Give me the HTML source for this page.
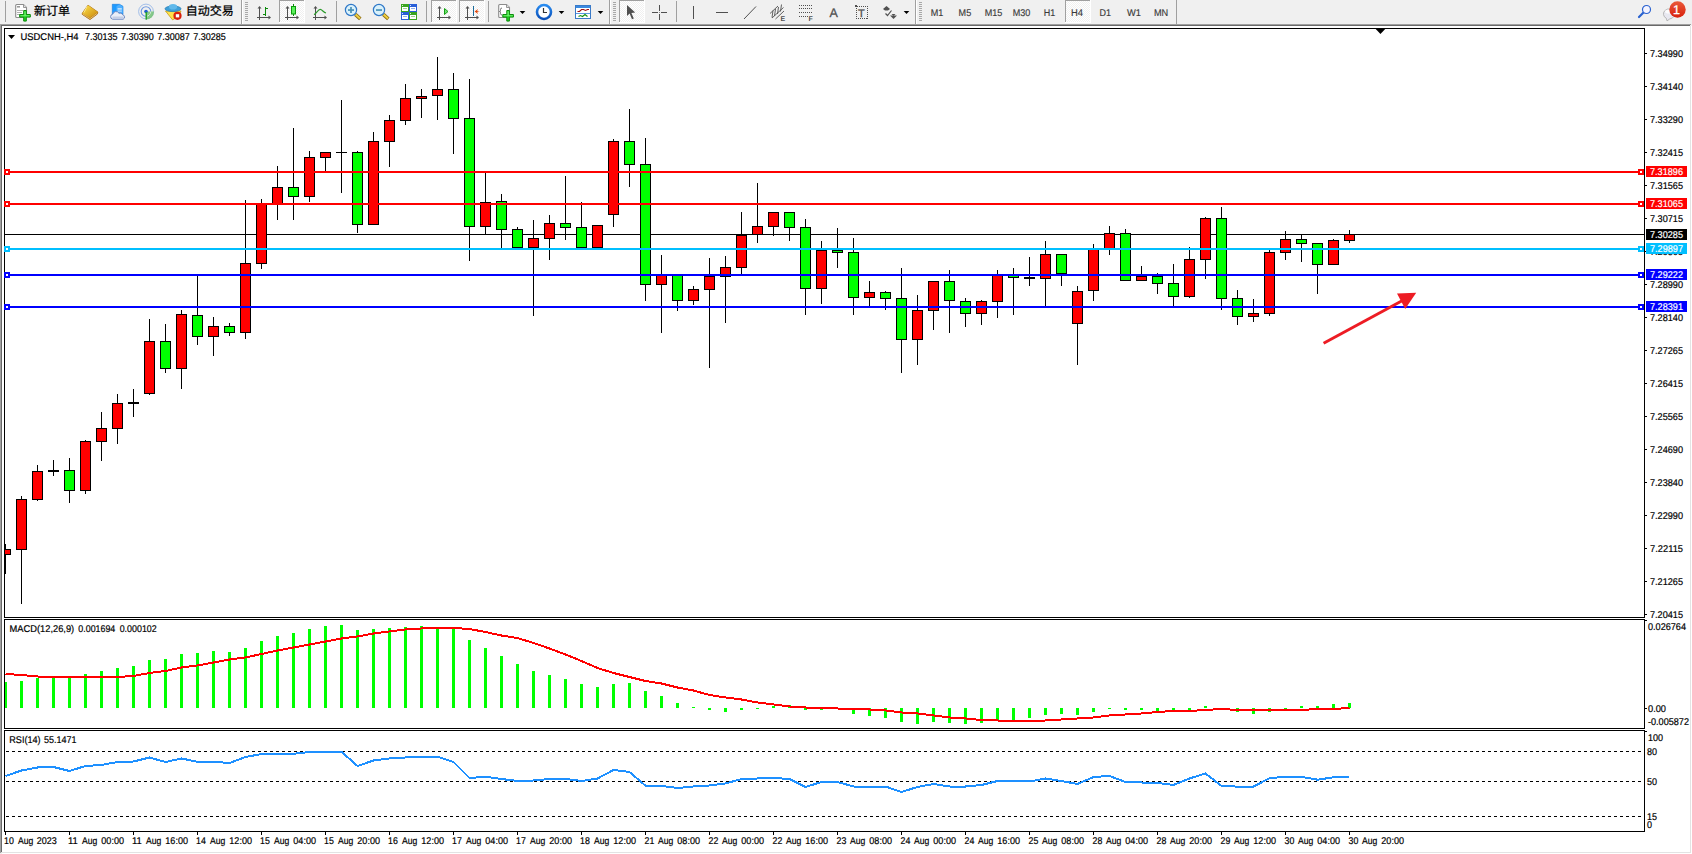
<!DOCTYPE html>
<html lang="zh"><head><meta charset="utf-8"><title>USDCNH-,H4</title>
<style>
html,body{margin:0;padding:0;background:#f0f0f0;width:1692px;height:854px;overflow:hidden}
svg{display:block;position:absolute;left:0;top:0}
svg text{font-family:"Liberation Sans","Noto Sans CJK SC",sans-serif;white-space:pre;text-rendering:geometricPrecision}
</style></head><body>
<svg width="1692" height="854" viewBox="0 0 1692 854" shape-rendering="crispEdges">
<rect x="0" y="0" width="1692" height="854" fill="#f0f0f0"/>
<rect x="0" y="24" width="1691" height="1" fill="#a0a0a0"/>
<rect x="0" y="25" width="1690" height="1" fill="#696969"/>
<rect x="2" y="26" width="1690" height="828" fill="#fff"/>
<rect x="0" y="24" width="1" height="829" fill="#a0a0a0"/>
<rect x="1" y="25" width="1" height="827" fill="#696969"/>
<rect x="1690" y="26" width="1" height="827" fill="#e3e3e3"/>
<rect x="1" y="852" width="1690" height="1" fill="#e3e3e3"/>
<rect x="4" y="28" width="1641" height="1" fill="#000"/>
<rect x="4" y="28" width="1" height="804" fill="#000"/>
<rect x="1644" y="28" width="1" height="804" fill="#000"/>
<rect x="4" y="831" width="1641" height="1" fill="#000"/>
<rect x="4" y="617" width="1641" height="1" fill="#000"/>
<rect x="4" y="618" width="1641" height="1" fill="#fff"/>
<rect x="4" y="619" width="1641" height="1" fill="#000"/>
<rect x="4" y="728" width="1641" height="1" fill="#000"/>
<rect x="4" y="729" width="1641" height="1" fill="#fff"/>
<rect x="4" y="730" width="1641" height="1" fill="#000"/>
<rect x="5" y="234" width="1639" height="1" fill="#000"/>
<g id="candles">
<rect x="5" y="544" width="1" height="30" fill="#000"/>
<rect x="5" y="549" width="6" height="6" fill="#000"/>
<rect x="5" y="550" width="5" height="4" fill="#ff0000"/>
<rect x="21" y="496" width="1" height="108" fill="#000"/>
<rect x="16" y="499" width="11" height="51" fill="#000"/>
<rect x="17" y="500" width="9" height="49" fill="#ff0000"/>
<rect x="37" y="465" width="1" height="36" fill="#000"/>
<rect x="32" y="471" width="11" height="29" fill="#000"/>
<rect x="33" y="472" width="9" height="27" fill="#ff0000"/>
<rect x="53" y="460" width="1" height="16" fill="#000"/>
<rect x="48" y="470" width="11" height="2" fill="#000"/>
<rect x="69" y="458" width="1" height="45" fill="#000"/>
<rect x="64" y="470" width="11" height="21" fill="#000"/>
<rect x="65" y="471" width="9" height="19" fill="#00ff00"/>
<rect x="85" y="440" width="1" height="54" fill="#000"/>
<rect x="80" y="441" width="11" height="50" fill="#000"/>
<rect x="81" y="442" width="9" height="48" fill="#ff0000"/>
<rect x="101" y="412" width="1" height="49" fill="#000"/>
<rect x="96" y="428" width="11" height="14" fill="#000"/>
<rect x="97" y="429" width="9" height="12" fill="#ff0000"/>
<rect x="117" y="394" width="1" height="50" fill="#000"/>
<rect x="112" y="403" width="11" height="26" fill="#000"/>
<rect x="113" y="404" width="9" height="24" fill="#ff0000"/>
<rect x="133" y="389" width="1" height="28" fill="#000"/>
<rect x="128" y="402" width="11" height="2" fill="#000"/>
<rect x="149" y="319" width="1" height="76" fill="#000"/>
<rect x="144" y="341" width="11" height="53" fill="#000"/>
<rect x="145" y="342" width="9" height="51" fill="#ff0000"/>
<rect x="165" y="324" width="1" height="49" fill="#000"/>
<rect x="160" y="341" width="11" height="28" fill="#000"/>
<rect x="161" y="342" width="9" height="26" fill="#00ff00"/>
<rect x="181" y="310" width="1" height="79" fill="#000"/>
<rect x="176" y="314" width="11" height="55" fill="#000"/>
<rect x="177" y="315" width="9" height="53" fill="#ff0000"/>
<rect x="197" y="275" width="1" height="70" fill="#000"/>
<rect x="192" y="315" width="11" height="22" fill="#000"/>
<rect x="193" y="316" width="9" height="20" fill="#00ff00"/>
<rect x="213" y="317" width="1" height="39" fill="#000"/>
<rect x="208" y="326" width="11" height="11" fill="#000"/>
<rect x="209" y="327" width="9" height="9" fill="#ff0000"/>
<rect x="229" y="323" width="1" height="13" fill="#000"/>
<rect x="224" y="326" width="11" height="7" fill="#000"/>
<rect x="225" y="327" width="9" height="5" fill="#00ff00"/>
<rect x="245" y="200" width="1" height="139" fill="#000"/>
<rect x="240" y="263" width="11" height="70" fill="#000"/>
<rect x="241" y="264" width="9" height="68" fill="#ff0000"/>
<rect x="261" y="199" width="1" height="70" fill="#000"/>
<rect x="256" y="203" width="11" height="61" fill="#000"/>
<rect x="257" y="204" width="9" height="59" fill="#ff0000"/>
<rect x="277" y="166" width="1" height="54" fill="#000"/>
<rect x="272" y="187" width="11" height="18" fill="#000"/>
<rect x="273" y="188" width="9" height="16" fill="#ff0000"/>
<rect x="293" y="128" width="1" height="92" fill="#000"/>
<rect x="288" y="187" width="11" height="10" fill="#000"/>
<rect x="289" y="188" width="9" height="8" fill="#00ff00"/>
<rect x="309" y="151" width="1" height="51" fill="#000"/>
<rect x="304" y="157" width="11" height="40" fill="#000"/>
<rect x="305" y="158" width="9" height="38" fill="#ff0000"/>
<rect x="325" y="152" width="1" height="19" fill="#000"/>
<rect x="320" y="152" width="11" height="6" fill="#000"/>
<rect x="321" y="153" width="9" height="4" fill="#ff0000"/>
<rect x="341" y="100" width="1" height="93" fill="#000"/>
<rect x="336" y="152" width="11" height="1" fill="#000"/>
<rect x="357" y="151" width="1" height="82" fill="#000"/>
<rect x="352" y="152" width="11" height="73" fill="#000"/>
<rect x="353" y="153" width="9" height="71" fill="#00ff00"/>
<rect x="373" y="132" width="1" height="93" fill="#000"/>
<rect x="368" y="141" width="11" height="84" fill="#000"/>
<rect x="369" y="142" width="9" height="82" fill="#ff0000"/>
<rect x="389" y="115" width="1" height="52" fill="#000"/>
<rect x="384" y="120" width="11" height="22" fill="#000"/>
<rect x="385" y="121" width="9" height="20" fill="#ff0000"/>
<rect x="405" y="84" width="1" height="41" fill="#000"/>
<rect x="400" y="98" width="11" height="23" fill="#000"/>
<rect x="401" y="99" width="9" height="21" fill="#ff0000"/>
<rect x="421" y="89" width="1" height="29" fill="#000"/>
<rect x="416" y="96" width="11" height="3" fill="#000"/>
<rect x="417" y="97" width="9" height="1" fill="#ff0000"/>
<rect x="437" y="57" width="1" height="63" fill="#000"/>
<rect x="432" y="89" width="11" height="7" fill="#000"/>
<rect x="433" y="90" width="9" height="5" fill="#ff0000"/>
<rect x="453" y="73" width="1" height="81" fill="#000"/>
<rect x="448" y="89" width="11" height="30" fill="#000"/>
<rect x="449" y="90" width="9" height="28" fill="#00ff00"/>
<rect x="469" y="79" width="1" height="182" fill="#000"/>
<rect x="464" y="118" width="11" height="109" fill="#000"/>
<rect x="465" y="119" width="9" height="107" fill="#00ff00"/>
<rect x="485" y="173" width="1" height="61" fill="#000"/>
<rect x="480" y="202" width="11" height="25" fill="#000"/>
<rect x="481" y="203" width="9" height="23" fill="#ff0000"/>
<rect x="501" y="194" width="1" height="54" fill="#000"/>
<rect x="496" y="201" width="11" height="29" fill="#000"/>
<rect x="497" y="202" width="9" height="27" fill="#00ff00"/>
<rect x="517" y="227" width="1" height="21" fill="#000"/>
<rect x="512" y="229" width="11" height="19" fill="#000"/>
<rect x="513" y="230" width="9" height="17" fill="#00ff00"/>
<rect x="533" y="220" width="1" height="96" fill="#000"/>
<rect x="528" y="238" width="11" height="10" fill="#000"/>
<rect x="529" y="239" width="9" height="8" fill="#ff0000"/>
<rect x="549" y="215" width="1" height="45" fill="#000"/>
<rect x="544" y="223" width="11" height="16" fill="#000"/>
<rect x="545" y="224" width="9" height="14" fill="#ff0000"/>
<rect x="565" y="176" width="1" height="64" fill="#000"/>
<rect x="560" y="223" width="11" height="5" fill="#000"/>
<rect x="561" y="224" width="9" height="3" fill="#00ff00"/>
<rect x="581" y="202" width="1" height="46" fill="#000"/>
<rect x="576" y="227" width="11" height="21" fill="#000"/>
<rect x="577" y="228" width="9" height="19" fill="#00ff00"/>
<rect x="597" y="225" width="1" height="23" fill="#000"/>
<rect x="592" y="225" width="11" height="23" fill="#000"/>
<rect x="593" y="226" width="9" height="21" fill="#ff0000"/>
<rect x="613" y="139" width="1" height="88" fill="#000"/>
<rect x="608" y="141" width="11" height="74" fill="#000"/>
<rect x="609" y="142" width="9" height="72" fill="#ff0000"/>
<rect x="629" y="109" width="1" height="78" fill="#000"/>
<rect x="624" y="141" width="11" height="24" fill="#000"/>
<rect x="625" y="142" width="9" height="22" fill="#00ff00"/>
<rect x="645" y="138" width="1" height="163" fill="#000"/>
<rect x="640" y="164" width="11" height="121" fill="#000"/>
<rect x="641" y="165" width="9" height="119" fill="#00ff00"/>
<rect x="661" y="255" width="1" height="78" fill="#000"/>
<rect x="656" y="275" width="11" height="10" fill="#000"/>
<rect x="657" y="276" width="9" height="8" fill="#ff0000"/>
<rect x="677" y="275" width="1" height="36" fill="#000"/>
<rect x="672" y="275" width="11" height="26" fill="#000"/>
<rect x="673" y="276" width="9" height="24" fill="#00ff00"/>
<rect x="693" y="286" width="1" height="19" fill="#000"/>
<rect x="688" y="289" width="11" height="12" fill="#000"/>
<rect x="689" y="290" width="9" height="10" fill="#ff0000"/>
<rect x="709" y="258" width="1" height="110" fill="#000"/>
<rect x="704" y="276" width="11" height="14" fill="#000"/>
<rect x="705" y="277" width="9" height="12" fill="#ff0000"/>
<rect x="725" y="256" width="1" height="67" fill="#000"/>
<rect x="720" y="267" width="11" height="10" fill="#000"/>
<rect x="721" y="268" width="9" height="8" fill="#ff0000"/>
<rect x="741" y="212" width="1" height="62" fill="#000"/>
<rect x="736" y="235" width="11" height="33" fill="#000"/>
<rect x="737" y="236" width="9" height="31" fill="#ff0000"/>
<rect x="757" y="183" width="1" height="60" fill="#000"/>
<rect x="752" y="226" width="11" height="9" fill="#000"/>
<rect x="753" y="227" width="9" height="7" fill="#ff0000"/>
<rect x="773" y="212" width="1" height="24" fill="#000"/>
<rect x="768" y="212" width="11" height="15" fill="#000"/>
<rect x="769" y="213" width="9" height="13" fill="#ff0000"/>
<rect x="789" y="212" width="1" height="29" fill="#000"/>
<rect x="784" y="212" width="11" height="16" fill="#000"/>
<rect x="785" y="213" width="9" height="14" fill="#00ff00"/>
<rect x="805" y="219" width="1" height="96" fill="#000"/>
<rect x="800" y="227" width="11" height="62" fill="#000"/>
<rect x="801" y="228" width="9" height="60" fill="#00ff00"/>
<rect x="821" y="241" width="1" height="63" fill="#000"/>
<rect x="816" y="250" width="11" height="39" fill="#000"/>
<rect x="817" y="251" width="9" height="37" fill="#ff0000"/>
<rect x="837" y="228" width="1" height="40" fill="#000"/>
<rect x="832" y="250" width="11" height="3" fill="#000"/>
<rect x="833" y="251" width="9" height="1" fill="#00ff00"/>
<rect x="853" y="238" width="1" height="77" fill="#000"/>
<rect x="848" y="252" width="11" height="46" fill="#000"/>
<rect x="849" y="253" width="9" height="44" fill="#00ff00"/>
<rect x="869" y="281" width="1" height="25" fill="#000"/>
<rect x="864" y="292" width="11" height="6" fill="#000"/>
<rect x="865" y="293" width="9" height="4" fill="#ff0000"/>
<rect x="885" y="291" width="1" height="19" fill="#000"/>
<rect x="880" y="292" width="11" height="7" fill="#000"/>
<rect x="881" y="293" width="9" height="5" fill="#00ff00"/>
<rect x="901" y="268" width="1" height="105" fill="#000"/>
<rect x="896" y="298" width="11" height="42" fill="#000"/>
<rect x="897" y="299" width="9" height="40" fill="#00ff00"/>
<rect x="917" y="295" width="1" height="70" fill="#000"/>
<rect x="912" y="310" width="11" height="30" fill="#000"/>
<rect x="913" y="311" width="9" height="28" fill="#ff0000"/>
<rect x="933" y="281" width="1" height="49" fill="#000"/>
<rect x="928" y="281" width="11" height="30" fill="#000"/>
<rect x="929" y="282" width="9" height="28" fill="#ff0000"/>
<rect x="949" y="270" width="1" height="63" fill="#000"/>
<rect x="944" y="281" width="11" height="20" fill="#000"/>
<rect x="945" y="282" width="9" height="18" fill="#00ff00"/>
<rect x="965" y="298" width="1" height="29" fill="#000"/>
<rect x="960" y="301" width="11" height="13" fill="#000"/>
<rect x="961" y="302" width="9" height="11" fill="#00ff00"/>
<rect x="981" y="300" width="1" height="25" fill="#000"/>
<rect x="976" y="301" width="11" height="13" fill="#000"/>
<rect x="977" y="302" width="9" height="11" fill="#ff0000"/>
<rect x="997" y="270" width="1" height="48" fill="#000"/>
<rect x="992" y="275" width="11" height="27" fill="#000"/>
<rect x="993" y="276" width="9" height="25" fill="#ff0000"/>
<rect x="1013" y="268" width="1" height="47" fill="#000"/>
<rect x="1008" y="274" width="11" height="4" fill="#000"/>
<rect x="1009" y="275" width="9" height="2" fill="#00ff00"/>
<rect x="1029" y="257" width="1" height="29" fill="#000"/>
<rect x="1024" y="277" width="11" height="2" fill="#000"/>
<rect x="1045" y="241" width="1" height="65" fill="#000"/>
<rect x="1040" y="254" width="11" height="25" fill="#000"/>
<rect x="1041" y="255" width="9" height="23" fill="#ff0000"/>
<rect x="1061" y="254" width="1" height="32" fill="#000"/>
<rect x="1056" y="254" width="11" height="20" fill="#000"/>
<rect x="1057" y="255" width="9" height="18" fill="#00ff00"/>
<rect x="1077" y="286" width="1" height="79" fill="#000"/>
<rect x="1072" y="291" width="11" height="33" fill="#000"/>
<rect x="1073" y="292" width="9" height="31" fill="#ff0000"/>
<rect x="1093" y="244" width="1" height="57" fill="#000"/>
<rect x="1088" y="249" width="11" height="42" fill="#000"/>
<rect x="1089" y="250" width="9" height="40" fill="#ff0000"/>
<rect x="1109" y="226" width="1" height="29" fill="#000"/>
<rect x="1104" y="233" width="11" height="16" fill="#000"/>
<rect x="1105" y="234" width="9" height="14" fill="#ff0000"/>
<rect x="1125" y="229" width="1" height="52" fill="#000"/>
<rect x="1120" y="233" width="11" height="48" fill="#000"/>
<rect x="1121" y="234" width="9" height="46" fill="#00ff00"/>
<rect x="1141" y="266" width="1" height="15" fill="#000"/>
<rect x="1136" y="276" width="11" height="5" fill="#000"/>
<rect x="1137" y="277" width="9" height="3" fill="#ff0000"/>
<rect x="1157" y="273" width="1" height="21" fill="#000"/>
<rect x="1152" y="276" width="11" height="8" fill="#000"/>
<rect x="1153" y="277" width="9" height="6" fill="#00ff00"/>
<rect x="1173" y="264" width="1" height="42" fill="#000"/>
<rect x="1168" y="283" width="11" height="14" fill="#000"/>
<rect x="1169" y="284" width="9" height="12" fill="#00ff00"/>
<rect x="1189" y="247" width="1" height="51" fill="#000"/>
<rect x="1184" y="259" width="11" height="38" fill="#000"/>
<rect x="1185" y="260" width="9" height="36" fill="#ff0000"/>
<rect x="1205" y="217" width="1" height="62" fill="#000"/>
<rect x="1200" y="218" width="11" height="42" fill="#000"/>
<rect x="1201" y="219" width="9" height="40" fill="#ff0000"/>
<rect x="1221" y="207" width="1" height="103" fill="#000"/>
<rect x="1216" y="218" width="11" height="81" fill="#000"/>
<rect x="1217" y="219" width="9" height="79" fill="#00ff00"/>
<rect x="1237" y="290" width="1" height="35" fill="#000"/>
<rect x="1232" y="298" width="11" height="19" fill="#000"/>
<rect x="1233" y="299" width="9" height="17" fill="#00ff00"/>
<rect x="1253" y="299" width="1" height="23" fill="#000"/>
<rect x="1248" y="313" width="11" height="4" fill="#000"/>
<rect x="1249" y="314" width="9" height="2" fill="#ff0000"/>
<rect x="1269" y="250" width="1" height="66" fill="#000"/>
<rect x="1264" y="252" width="11" height="62" fill="#000"/>
<rect x="1265" y="253" width="9" height="60" fill="#ff0000"/>
<rect x="1285" y="231" width="1" height="29" fill="#000"/>
<rect x="1280" y="239" width="11" height="14" fill="#000"/>
<rect x="1281" y="240" width="9" height="12" fill="#ff0000"/>
<rect x="1301" y="235" width="1" height="27" fill="#000"/>
<rect x="1296" y="239" width="11" height="5" fill="#000"/>
<rect x="1297" y="240" width="9" height="3" fill="#00ff00"/>
<rect x="1317" y="243" width="1" height="51" fill="#000"/>
<rect x="1312" y="243" width="11" height="22" fill="#000"/>
<rect x="1313" y="244" width="9" height="20" fill="#00ff00"/>
<rect x="1333" y="239" width="1" height="26" fill="#000"/>
<rect x="1328" y="240" width="11" height="25" fill="#000"/>
<rect x="1329" y="241" width="9" height="23" fill="#ff0000"/>
<rect x="1349" y="230" width="1" height="13" fill="#000"/>
<rect x="1344" y="234" width="11" height="7" fill="#000"/>
<rect x="1345" y="235" width="9" height="5" fill="#ff0000"/>
</g>
<rect x="5" y="171" width="1639" height="2" fill="#ff0000"/>
<rect x="4" y="169" width="6" height="6" fill="#ff0000"/>
<rect x="6" y="171" width="2" height="2" fill="#fff"/>
<rect x="1638" y="169" width="6" height="6" fill="#ff0000"/>
<rect x="1640" y="171" width="2" height="2" fill="#fff"/>
<rect x="5" y="203" width="1639" height="2" fill="#ff0000"/>
<rect x="4" y="201" width="6" height="6" fill="#ff0000"/>
<rect x="6" y="203" width="2" height="2" fill="#fff"/>
<rect x="1638" y="201" width="6" height="6" fill="#ff0000"/>
<rect x="1640" y="203" width="2" height="2" fill="#fff"/>
<rect x="5" y="248" width="1639" height="2" fill="#00bfff"/>
<rect x="4" y="246" width="6" height="6" fill="#00bfff"/>
<rect x="6" y="248" width="2" height="2" fill="#fff"/>
<rect x="1638" y="246" width="6" height="6" fill="#00bfff"/>
<rect x="1640" y="248" width="2" height="2" fill="#fff"/>
<rect x="5" y="274" width="1639" height="2" fill="#0000ff"/>
<rect x="4" y="272" width="6" height="6" fill="#0000ff"/>
<rect x="6" y="274" width="2" height="2" fill="#fff"/>
<rect x="1638" y="272" width="6" height="6" fill="#0000ff"/>
<rect x="1640" y="274" width="2" height="2" fill="#fff"/>
<rect x="5" y="306" width="1639" height="2" fill="#0000ff"/>
<rect x="4" y="304" width="6" height="6" fill="#0000ff"/>
<rect x="6" y="306" width="2" height="2" fill="#fff"/>
<rect x="1638" y="304" width="6" height="6" fill="#0000ff"/>
<rect x="1640" y="306" width="2" height="2" fill="#fff"/>
<g id="arrow" shape-rendering="auto"><line x1="1323.6" y1="343.3" x2="1403" y2="300.3" stroke="#ed1c24" stroke-width="3"/><polygon points="1397,293.6 1416.2,292.7 1405.2,309" fill="#ed1c24"/></g>
<rect x="1645" y="53" width="2" height="1" fill="#000"/>
<text x="1650" y="57" font-size="9.8" fill="#000" stroke="#000" stroke-width="0.2" textLength="33" lengthAdjust="spacingAndGlyphs">7.34990</text>
<rect x="1645" y="86" width="2" height="1" fill="#000"/>
<text x="1650" y="90" font-size="9.8" fill="#000" stroke="#000" stroke-width="0.2" textLength="33" lengthAdjust="spacingAndGlyphs">7.34140</text>
<rect x="1645" y="119" width="2" height="1" fill="#000"/>
<text x="1650" y="123" font-size="9.8" fill="#000" stroke="#000" stroke-width="0.2" textLength="33" lengthAdjust="spacingAndGlyphs">7.33290</text>
<rect x="1645" y="152" width="2" height="1" fill="#000"/>
<text x="1650" y="156" font-size="9.8" fill="#000" stroke="#000" stroke-width="0.2" textLength="33" lengthAdjust="spacingAndGlyphs">7.32415</text>
<rect x="1645" y="185" width="2" height="1" fill="#000"/>
<text x="1650" y="189" font-size="9.8" fill="#000" stroke="#000" stroke-width="0.2" textLength="33" lengthAdjust="spacingAndGlyphs">7.31565</text>
<rect x="1645" y="218" width="2" height="1" fill="#000"/>
<text x="1650" y="222" font-size="9.8" fill="#000" stroke="#000" stroke-width="0.2" textLength="33" lengthAdjust="spacingAndGlyphs">7.30715</text>
<rect x="1645" y="251" width="2" height="1" fill="#000"/>
<text x="1650" y="255" font-size="9.8" fill="#000" stroke="#000" stroke-width="0.2" textLength="33" lengthAdjust="spacingAndGlyphs">7.29865</text>
<rect x="1645" y="284" width="2" height="1" fill="#000"/>
<text x="1650" y="288" font-size="9.8" fill="#000" stroke="#000" stroke-width="0.2" textLength="33" lengthAdjust="spacingAndGlyphs">7.28990</text>
<rect x="1645" y="317" width="2" height="1" fill="#000"/>
<text x="1650" y="321" font-size="9.8" fill="#000" stroke="#000" stroke-width="0.2" textLength="33" lengthAdjust="spacingAndGlyphs">7.28140</text>
<rect x="1645" y="350" width="2" height="1" fill="#000"/>
<text x="1650" y="354" font-size="9.8" fill="#000" stroke="#000" stroke-width="0.2" textLength="33" lengthAdjust="spacingAndGlyphs">7.27265</text>
<rect x="1645" y="383" width="2" height="1" fill="#000"/>
<text x="1650" y="387" font-size="9.8" fill="#000" stroke="#000" stroke-width="0.2" textLength="33" lengthAdjust="spacingAndGlyphs">7.26415</text>
<rect x="1645" y="416" width="2" height="1" fill="#000"/>
<text x="1650" y="420" font-size="9.8" fill="#000" stroke="#000" stroke-width="0.2" textLength="33" lengthAdjust="spacingAndGlyphs">7.25565</text>
<rect x="1645" y="449" width="2" height="1" fill="#000"/>
<text x="1650" y="453" font-size="9.8" fill="#000" stroke="#000" stroke-width="0.2" textLength="33" lengthAdjust="spacingAndGlyphs">7.24690</text>
<rect x="1645" y="482" width="2" height="1" fill="#000"/>
<text x="1650" y="486" font-size="9.8" fill="#000" stroke="#000" stroke-width="0.2" textLength="33" lengthAdjust="spacingAndGlyphs">7.23840</text>
<rect x="1645" y="515" width="2" height="1" fill="#000"/>
<text x="1650" y="519" font-size="9.8" fill="#000" stroke="#000" stroke-width="0.2" textLength="33" lengthAdjust="spacingAndGlyphs">7.22990</text>
<rect x="1645" y="548" width="2" height="1" fill="#000"/>
<text x="1650" y="552" font-size="9.8" fill="#000" stroke="#000" stroke-width="0.2" textLength="33" lengthAdjust="spacingAndGlyphs">7.22115</text>
<rect x="1645" y="581" width="2" height="1" fill="#000"/>
<text x="1650" y="585" font-size="9.8" fill="#000" stroke="#000" stroke-width="0.2" textLength="33" lengthAdjust="spacingAndGlyphs">7.21265</text>
<rect x="1645" y="614" width="2" height="1" fill="#000"/>
<text x="1650" y="618" font-size="9.8" fill="#000" stroke="#000" stroke-width="0.2" textLength="33" lengthAdjust="spacingAndGlyphs">7.20415</text>
<rect x="1646" y="229" width="41" height="11" fill="#000"/>
<text x="1650" y="238" font-size="9.8" fill="#fff" stroke="#fff" stroke-width="0.2" textLength="33" lengthAdjust="spacingAndGlyphs">7.30285</text>
<rect x="1646" y="166" width="41" height="11" fill="#ff0000"/>
<text x="1650" y="175" font-size="9.8" fill="#fff" stroke="#fff" stroke-width="0.2" textLength="33" lengthAdjust="spacingAndGlyphs">7.31896</text>
<rect x="1646" y="198" width="41" height="11" fill="#ff0000"/>
<text x="1650" y="207" font-size="9.8" fill="#fff" stroke="#fff" stroke-width="0.2" textLength="33" lengthAdjust="spacingAndGlyphs">7.31065</text>
<rect x="1646" y="243" width="41" height="11" fill="#00bfff"/>
<text x="1650" y="252" font-size="9.8" fill="#fff" stroke="#fff" stroke-width="0.2" textLength="33" lengthAdjust="spacingAndGlyphs">7.29897</text>
<rect x="1646" y="269" width="41" height="11" fill="#0000ff"/>
<text x="1650" y="278" font-size="9.8" fill="#fff" stroke="#fff" stroke-width="0.2" textLength="33" lengthAdjust="spacingAndGlyphs">7.29222</text>
<rect x="1646" y="301" width="41" height="11" fill="#0000ff"/>
<text x="1650" y="310" font-size="9.8" fill="#fff" stroke="#fff" stroke-width="0.2" textLength="33" lengthAdjust="spacingAndGlyphs">7.28391</text>
<polygon points="1375.7,29 1385.2,29 1380.45,34" fill="#000" shape-rendering="auto"/>
<rect x="5" y="682" width="2" height="26" fill="#00ff00"/>
<rect x="20" y="681" width="3" height="27" fill="#00ff00"/>
<rect x="36" y="678" width="3" height="30" fill="#00ff00"/>
<rect x="52" y="677" width="3" height="31" fill="#00ff00"/>
<rect x="68" y="677" width="3" height="31" fill="#00ff00"/>
<rect x="84" y="674" width="3" height="34" fill="#00ff00"/>
<rect x="100" y="671" width="3" height="37" fill="#00ff00"/>
<rect x="116" y="668" width="3" height="40" fill="#00ff00"/>
<rect x="132" y="666" width="3" height="42" fill="#00ff00"/>
<rect x="148" y="660" width="3" height="48" fill="#00ff00"/>
<rect x="164" y="659" width="3" height="49" fill="#00ff00"/>
<rect x="180" y="654" width="3" height="54" fill="#00ff00"/>
<rect x="196" y="653" width="3" height="55" fill="#00ff00"/>
<rect x="212" y="651" width="3" height="57" fill="#00ff00"/>
<rect x="228" y="652" width="3" height="56" fill="#00ff00"/>
<rect x="244" y="648" width="3" height="60" fill="#00ff00"/>
<rect x="260" y="641" width="3" height="67" fill="#00ff00"/>
<rect x="276" y="636" width="3" height="72" fill="#00ff00"/>
<rect x="292" y="633" width="3" height="75" fill="#00ff00"/>
<rect x="308" y="629" width="3" height="79" fill="#00ff00"/>
<rect x="324" y="626" width="3" height="82" fill="#00ff00"/>
<rect x="340" y="625" width="3" height="83" fill="#00ff00"/>
<rect x="356" y="630" width="3" height="78" fill="#00ff00"/>
<rect x="372" y="629" width="3" height="79" fill="#00ff00"/>
<rect x="388" y="628" width="3" height="80" fill="#00ff00"/>
<rect x="404" y="627" width="3" height="81" fill="#00ff00"/>
<rect x="420" y="626" width="3" height="82" fill="#00ff00"/>
<rect x="436" y="627" width="3" height="81" fill="#00ff00"/>
<rect x="452" y="629" width="3" height="79" fill="#00ff00"/>
<rect x="468" y="640" width="3" height="68" fill="#00ff00"/>
<rect x="484" y="648" width="3" height="60" fill="#00ff00"/>
<rect x="500" y="656" width="3" height="52" fill="#00ff00"/>
<rect x="516" y="664" width="3" height="44" fill="#00ff00"/>
<rect x="532" y="671" width="3" height="37" fill="#00ff00"/>
<rect x="548" y="675" width="3" height="33" fill="#00ff00"/>
<rect x="564" y="679" width="3" height="29" fill="#00ff00"/>
<rect x="580" y="684" width="3" height="24" fill="#00ff00"/>
<rect x="596" y="687" width="3" height="21" fill="#00ff00"/>
<rect x="612" y="684" width="3" height="24" fill="#00ff00"/>
<rect x="628" y="683" width="3" height="25" fill="#00ff00"/>
<rect x="644" y="691" width="3" height="17" fill="#00ff00"/>
<rect x="660" y="696" width="3" height="12" fill="#00ff00"/>
<rect x="676" y="703" width="3" height="5" fill="#00ff00"/>
<rect x="692" y="707" width="3" height="1" fill="#00ff00"/>
<rect x="708" y="708" width="3" height="2" fill="#00ff00"/>
<rect x="724" y="708" width="3" height="4" fill="#00ff00"/>
<rect x="740" y="708" width="3" height="2" fill="#00ff00"/>
<rect x="756" y="708" width="3" height="1" fill="#00ff00"/>
<rect x="772" y="706" width="3" height="2" fill="#00ff00"/>
<rect x="788" y="705" width="3" height="3" fill="#00ff00"/>
<rect x="804" y="708" width="3" height="2" fill="#00ff00"/>
<rect x="820" y="708" width="3" height="2" fill="#00ff00"/>
<rect x="836" y="708" width="3" height="1" fill="#00ff00"/>
<rect x="852" y="708" width="3" height="6" fill="#00ff00"/>
<rect x="868" y="708" width="3" height="8" fill="#00ff00"/>
<rect x="884" y="708" width="3" height="10" fill="#00ff00"/>
<rect x="900" y="708" width="3" height="14" fill="#00ff00"/>
<rect x="916" y="708" width="3" height="16" fill="#00ff00"/>
<rect x="932" y="708" width="3" height="14" fill="#00ff00"/>
<rect x="948" y="708" width="3" height="15" fill="#00ff00"/>
<rect x="964" y="708" width="3" height="16" fill="#00ff00"/>
<rect x="980" y="708" width="3" height="15" fill="#00ff00"/>
<rect x="996" y="708" width="3" height="13" fill="#00ff00"/>
<rect x="1012" y="708" width="3" height="12" fill="#00ff00"/>
<rect x="1028" y="708" width="3" height="10" fill="#00ff00"/>
<rect x="1044" y="708" width="3" height="7" fill="#00ff00"/>
<rect x="1060" y="708" width="3" height="6" fill="#00ff00"/>
<rect x="1076" y="708" width="3" height="7" fill="#00ff00"/>
<rect x="1092" y="708" width="3" height="4" fill="#00ff00"/>
<rect x="1108" y="708" width="3" height="1" fill="#00ff00"/>
<rect x="1124" y="708" width="3" height="2" fill="#00ff00"/>
<rect x="1140" y="708" width="3" height="2" fill="#00ff00"/>
<rect x="1156" y="708" width="3" height="3" fill="#00ff00"/>
<rect x="1172" y="708" width="3" height="3" fill="#00ff00"/>
<rect x="1188" y="708" width="3" height="2" fill="#00ff00"/>
<rect x="1204" y="706" width="3" height="2" fill="#00ff00"/>
<rect x="1220" y="708" width="3" height="1" fill="#00ff00"/>
<rect x="1236" y="708" width="3" height="4" fill="#00ff00"/>
<rect x="1252" y="708" width="3" height="6" fill="#00ff00"/>
<rect x="1268" y="708" width="3" height="4" fill="#00ff00"/>
<rect x="1284" y="708" width="3" height="1" fill="#00ff00"/>
<rect x="1300" y="706" width="3" height="2" fill="#00ff00"/>
<rect x="1316" y="706" width="3" height="2" fill="#00ff00"/>
<rect x="1332" y="704" width="3" height="4" fill="#00ff00"/>
<rect x="1348" y="703" width="3" height="5" fill="#00ff00"/>
<polyline points="5.5,674 21.5,675 37.5,676.5 53.5,677 69.5,677 85.5,677 101.5,677 117.5,677 133.5,676 149.5,673 165.5,671 181.5,667.5 197.5,665.5 213.5,662.5 229.5,659.5 245.5,657.5 261.5,654 277.5,650.5 293.5,647.5 309.5,644.5 325.5,641.5 341.5,638.5 357.5,636.5 373.5,633.5 389.5,631.5 405.5,629.5 421.5,628.5 437.5,628 453.5,628 469.5,629 485.5,632 501.5,635.5 517.5,638 533.5,643 549.5,648.5 565.5,654.5 581.5,661 597.5,668 613.5,673 629.5,677 645.5,681 661.5,683.5 677.5,687.5 693.5,690.5 709.5,695 725.5,697.5 741.5,699.5 757.5,702.5 773.5,704.5 789.5,706.5 805.5,707.5 821.5,708 837.5,708.5 853.5,709 869.5,709.5 885.5,710.5 901.5,712.5 917.5,713.5 933.5,715.5 949.5,717.5 965.5,718.5 981.5,720 997.5,720.5 1013.5,721 1029.5,721 1045.5,720.5 1061.5,719.5 1077.5,718.5 1093.5,717.5 1109.5,715.5 1125.5,714.5 1141.5,713.5 1157.5,712 1173.5,711 1189.5,711 1205.5,710 1221.5,709 1237.5,710 1253.5,710 1269.5,710 1285.5,710 1301.5,710 1317.5,709 1333.5,709 1349.5,708" fill="none" stroke="#ff0000" stroke-width="2" shape-rendering="crispEdges" stroke-linejoin="round"/>
<rect x="1645" y="620" width="2" height="1" fill="#000"/>
<text x="1648" y="630" font-size="9.8" fill="#000" stroke="#000" stroke-width="0.2" textLength="38" lengthAdjust="spacingAndGlyphs">0.026764</text>
<rect x="1645" y="708" width="2" height="1" fill="#000"/>
<text x="1648" y="712" font-size="9.8" fill="#000" stroke="#000" stroke-width="0.2" textLength="18" lengthAdjust="spacingAndGlyphs">0.00</text>
<text x="1648" y="725" font-size="9.8" fill="#000" stroke="#000" stroke-width="0.2" textLength="41" lengthAdjust="spacingAndGlyphs">-0.005872</text>
<line x1="6" y1="751.5" x2="1644" y2="751.5" stroke="#000" stroke-width="1" stroke-dasharray="3 3"/>
<line x1="6" y1="781.5" x2="1644" y2="781.5" stroke="#000" stroke-width="1" stroke-dasharray="3 3"/>
<line x1="6" y1="816.5" x2="1644" y2="816.5" stroke="#000" stroke-width="1" stroke-dasharray="3 3"/>
<polyline points="5.5,776 21.5,770.5 37.5,767.5 53.5,767 69.5,771 85.5,766 101.5,765 117.5,762 133.5,761.5 149.5,757.5 165.5,762 181.5,758.5 197.5,761.75 213.5,761.75 229.5,763 245.5,757 261.5,754 277.5,753.75 293.5,753.75 309.5,752 325.5,751.75 341.5,751.75 357.5,766 373.5,760.5 389.5,758.5 405.5,757.5 421.5,757 437.5,756.75 453.5,762 469.5,778 485.5,776.75 501.5,779 517.5,781 533.5,780.5 549.5,779 565.5,779 581.5,781 597.5,778.5 613.5,770 629.5,772 645.5,785.75 661.5,786 677.5,788 693.5,786.5 709.5,785.5 725.5,783.5 741.5,779 757.5,778.5 773.5,778 789.5,779 805.5,787 821.5,782 837.5,782 853.5,786.5 869.5,786.5 885.5,786.5 901.5,792 917.5,787 933.5,784 949.5,786.5 965.5,786.5 981.5,785 997.5,781 1013.5,781 1029.5,781.5 1045.5,778.5 1061.5,781 1077.5,784 1093.5,777 1109.5,776 1125.5,782 1141.5,782.5 1157.5,783 1173.5,785 1189.5,778.5 1205.5,773.5 1221.5,786 1237.5,786.6 1253.5,786.6 1269.5,778.2 1285.5,776.8 1301.5,776.8 1317.5,779.7 1333.5,777.3 1349.5,776.5" fill="none" stroke="#1e90ff" stroke-width="2" shape-rendering="crispEdges" stroke-linejoin="round"/>
<rect x="1645" y="731" width="2" height="1" fill="#000"/>
<text x="1648" y="741" font-size="9.8" fill="#000" stroke="#000" stroke-width="0.2" textLength="15" lengthAdjust="spacingAndGlyphs">100</text>
<text x="1647" y="755" font-size="9.8" fill="#000" stroke="#000" stroke-width="0.2" textLength="10" lengthAdjust="spacingAndGlyphs">80</text>
<text x="1647" y="785" font-size="9.8" fill="#000" stroke="#000" stroke-width="0.2" textLength="10" lengthAdjust="spacingAndGlyphs">50</text>
<text x="1647" y="820" font-size="9.8" fill="#000" stroke="#000" stroke-width="0.2" textLength="10" lengthAdjust="spacingAndGlyphs">15</text>
<text x="1647" y="828" font-size="9.8" fill="#000" stroke="#000" stroke-width="0.2" textLength="5" lengthAdjust="spacingAndGlyphs">0</text>
<polygon points="8,35 15,35 11.5,39" fill="#000" shape-rendering="auto"/>
<text x="20.5" y="40" font-size="9.8" fill="#000" stroke="#000" stroke-width="0.2" textLength="58" lengthAdjust="spacingAndGlyphs">USDCNH-,H4</text>
<text x="85.0" y="40" font-size="9.8" fill="#000" stroke="#000" stroke-width="0.2" textLength="32.6" lengthAdjust="spacingAndGlyphs">7.30135</text>
<text x="121.1" y="40" font-size="9.8" fill="#000" stroke="#000" stroke-width="0.2" textLength="32.6" lengthAdjust="spacingAndGlyphs">7.30390</text>
<text x="157.2" y="40" font-size="9.8" fill="#000" stroke="#000" stroke-width="0.2" textLength="32.6" lengthAdjust="spacingAndGlyphs">7.30087</text>
<text x="193.3" y="40" font-size="9.8" fill="#000" stroke="#000" stroke-width="0.2" textLength="32.6" lengthAdjust="spacingAndGlyphs">7.30285</text>
<text x="9.5" y="632" font-size="9.8" fill="#000" stroke="#000" stroke-width="0.2" textLength="64.7" lengthAdjust="spacingAndGlyphs">MACD(12,26,9)</text>
<text x="78.3" y="632" font-size="9.8" fill="#000" stroke="#000" stroke-width="0.2" textLength="37" lengthAdjust="spacingAndGlyphs">0.001694</text>
<text x="119.7" y="632" font-size="9.8" fill="#000" stroke="#000" stroke-width="0.2" textLength="37" lengthAdjust="spacingAndGlyphs">0.000102</text>
<text x="9.3" y="743" font-size="9.8" fill="#000" stroke="#000" stroke-width="0.2" textLength="31.3" lengthAdjust="spacingAndGlyphs">RSI(14)</text>
<text x="44" y="743" font-size="9.8" fill="#000" stroke="#000" stroke-width="0.2" textLength="32.5" lengthAdjust="spacingAndGlyphs">55.1471</text>
<rect x="5" y="832" width="1" height="3" fill="#000"/>
<text x="4.0" y="844" font-size="9.8" fill="#000" stroke="#000" stroke-width="0.2" textLength="9.8" lengthAdjust="spacingAndGlyphs">10</text>
<text x="18.1" y="844" font-size="9.8" fill="#000" stroke="#000" stroke-width="0.2" textLength="15.3" lengthAdjust="spacingAndGlyphs">Aug</text>
<text x="36.8" y="844" font-size="9.8" fill="#000" stroke="#000" stroke-width="0.2" textLength="20" lengthAdjust="spacingAndGlyphs">2023</text>
<rect x="69" y="832" width="1" height="3" fill="#000"/>
<text x="68.0" y="844" font-size="9.8" fill="#000" stroke="#000" stroke-width="0.2" textLength="9.8" lengthAdjust="spacingAndGlyphs">11</text>
<text x="82.1" y="844" font-size="9.8" fill="#000" stroke="#000" stroke-width="0.2" textLength="15.3" lengthAdjust="spacingAndGlyphs">Aug</text>
<text x="101.3" y="844" font-size="9.8" fill="#000" stroke="#000" stroke-width="0.2" textLength="22.7" lengthAdjust="spacingAndGlyphs">00:00</text>
<rect x="133" y="832" width="1" height="3" fill="#000"/>
<text x="132.0" y="844" font-size="9.8" fill="#000" stroke="#000" stroke-width="0.2" textLength="9.8" lengthAdjust="spacingAndGlyphs">11</text>
<text x="146.1" y="844" font-size="9.8" fill="#000" stroke="#000" stroke-width="0.2" textLength="15.3" lengthAdjust="spacingAndGlyphs">Aug</text>
<text x="165.3" y="844" font-size="9.8" fill="#000" stroke="#000" stroke-width="0.2" textLength="22.7" lengthAdjust="spacingAndGlyphs">16:00</text>
<rect x="197" y="832" width="1" height="3" fill="#000"/>
<text x="196.0" y="844" font-size="9.8" fill="#000" stroke="#000" stroke-width="0.2" textLength="9.8" lengthAdjust="spacingAndGlyphs">14</text>
<text x="210.1" y="844" font-size="9.8" fill="#000" stroke="#000" stroke-width="0.2" textLength="15.3" lengthAdjust="spacingAndGlyphs">Aug</text>
<text x="229.3" y="844" font-size="9.8" fill="#000" stroke="#000" stroke-width="0.2" textLength="22.7" lengthAdjust="spacingAndGlyphs">12:00</text>
<rect x="261" y="832" width="1" height="3" fill="#000"/>
<text x="260.0" y="844" font-size="9.8" fill="#000" stroke="#000" stroke-width="0.2" textLength="9.8" lengthAdjust="spacingAndGlyphs">15</text>
<text x="274.1" y="844" font-size="9.8" fill="#000" stroke="#000" stroke-width="0.2" textLength="15.3" lengthAdjust="spacingAndGlyphs">Aug</text>
<text x="293.3" y="844" font-size="9.8" fill="#000" stroke="#000" stroke-width="0.2" textLength="22.7" lengthAdjust="spacingAndGlyphs">04:00</text>
<rect x="325" y="832" width="1" height="3" fill="#000"/>
<text x="324.0" y="844" font-size="9.8" fill="#000" stroke="#000" stroke-width="0.2" textLength="9.8" lengthAdjust="spacingAndGlyphs">15</text>
<text x="338.1" y="844" font-size="9.8" fill="#000" stroke="#000" stroke-width="0.2" textLength="15.3" lengthAdjust="spacingAndGlyphs">Aug</text>
<text x="357.3" y="844" font-size="9.8" fill="#000" stroke="#000" stroke-width="0.2" textLength="22.7" lengthAdjust="spacingAndGlyphs">20:00</text>
<rect x="389" y="832" width="1" height="3" fill="#000"/>
<text x="388.0" y="844" font-size="9.8" fill="#000" stroke="#000" stroke-width="0.2" textLength="9.8" lengthAdjust="spacingAndGlyphs">16</text>
<text x="402.1" y="844" font-size="9.8" fill="#000" stroke="#000" stroke-width="0.2" textLength="15.3" lengthAdjust="spacingAndGlyphs">Aug</text>
<text x="421.3" y="844" font-size="9.8" fill="#000" stroke="#000" stroke-width="0.2" textLength="22.7" lengthAdjust="spacingAndGlyphs">12:00</text>
<rect x="453" y="832" width="1" height="3" fill="#000"/>
<text x="452.0" y="844" font-size="9.8" fill="#000" stroke="#000" stroke-width="0.2" textLength="9.8" lengthAdjust="spacingAndGlyphs">17</text>
<text x="466.1" y="844" font-size="9.8" fill="#000" stroke="#000" stroke-width="0.2" textLength="15.3" lengthAdjust="spacingAndGlyphs">Aug</text>
<text x="485.3" y="844" font-size="9.8" fill="#000" stroke="#000" stroke-width="0.2" textLength="22.7" lengthAdjust="spacingAndGlyphs">04:00</text>
<rect x="517" y="832" width="1" height="3" fill="#000"/>
<text x="516.0" y="844" font-size="9.8" fill="#000" stroke="#000" stroke-width="0.2" textLength="9.8" lengthAdjust="spacingAndGlyphs">17</text>
<text x="530.1" y="844" font-size="9.8" fill="#000" stroke="#000" stroke-width="0.2" textLength="15.3" lengthAdjust="spacingAndGlyphs">Aug</text>
<text x="549.3" y="844" font-size="9.8" fill="#000" stroke="#000" stroke-width="0.2" textLength="22.7" lengthAdjust="spacingAndGlyphs">20:00</text>
<rect x="581" y="832" width="1" height="3" fill="#000"/>
<text x="580.0" y="844" font-size="9.8" fill="#000" stroke="#000" stroke-width="0.2" textLength="9.8" lengthAdjust="spacingAndGlyphs">18</text>
<text x="594.1" y="844" font-size="9.8" fill="#000" stroke="#000" stroke-width="0.2" textLength="15.3" lengthAdjust="spacingAndGlyphs">Aug</text>
<text x="613.3" y="844" font-size="9.8" fill="#000" stroke="#000" stroke-width="0.2" textLength="22.7" lengthAdjust="spacingAndGlyphs">12:00</text>
<rect x="645" y="832" width="1" height="3" fill="#000"/>
<text x="644.6" y="844" font-size="9.8" fill="#000" stroke="#000" stroke-width="0.2" textLength="9.8" lengthAdjust="spacingAndGlyphs">21</text>
<text x="658.1" y="844" font-size="9.8" fill="#000" stroke="#000" stroke-width="0.2" textLength="15.3" lengthAdjust="spacingAndGlyphs">Aug</text>
<text x="677.3" y="844" font-size="9.8" fill="#000" stroke="#000" stroke-width="0.2" textLength="22.7" lengthAdjust="spacingAndGlyphs">08:00</text>
<rect x="709" y="832" width="1" height="3" fill="#000"/>
<text x="708.6" y="844" font-size="9.8" fill="#000" stroke="#000" stroke-width="0.2" textLength="9.8" lengthAdjust="spacingAndGlyphs">22</text>
<text x="722.1" y="844" font-size="9.8" fill="#000" stroke="#000" stroke-width="0.2" textLength="15.3" lengthAdjust="spacingAndGlyphs">Aug</text>
<text x="741.3" y="844" font-size="9.8" fill="#000" stroke="#000" stroke-width="0.2" textLength="22.7" lengthAdjust="spacingAndGlyphs">00:00</text>
<rect x="773" y="832" width="1" height="3" fill="#000"/>
<text x="772.6" y="844" font-size="9.8" fill="#000" stroke="#000" stroke-width="0.2" textLength="9.8" lengthAdjust="spacingAndGlyphs">22</text>
<text x="786.1" y="844" font-size="9.8" fill="#000" stroke="#000" stroke-width="0.2" textLength="15.3" lengthAdjust="spacingAndGlyphs">Aug</text>
<text x="805.3" y="844" font-size="9.8" fill="#000" stroke="#000" stroke-width="0.2" textLength="22.7" lengthAdjust="spacingAndGlyphs">16:00</text>
<rect x="837" y="832" width="1" height="3" fill="#000"/>
<text x="836.6" y="844" font-size="9.8" fill="#000" stroke="#000" stroke-width="0.2" textLength="9.8" lengthAdjust="spacingAndGlyphs">23</text>
<text x="850.1" y="844" font-size="9.8" fill="#000" stroke="#000" stroke-width="0.2" textLength="15.3" lengthAdjust="spacingAndGlyphs">Aug</text>
<text x="869.3" y="844" font-size="9.8" fill="#000" stroke="#000" stroke-width="0.2" textLength="22.7" lengthAdjust="spacingAndGlyphs">08:00</text>
<rect x="901" y="832" width="1" height="3" fill="#000"/>
<text x="900.6" y="844" font-size="9.8" fill="#000" stroke="#000" stroke-width="0.2" textLength="9.8" lengthAdjust="spacingAndGlyphs">24</text>
<text x="914.1" y="844" font-size="9.8" fill="#000" stroke="#000" stroke-width="0.2" textLength="15.3" lengthAdjust="spacingAndGlyphs">Aug</text>
<text x="933.3" y="844" font-size="9.8" fill="#000" stroke="#000" stroke-width="0.2" textLength="22.7" lengthAdjust="spacingAndGlyphs">00:00</text>
<rect x="965" y="832" width="1" height="3" fill="#000"/>
<text x="964.6" y="844" font-size="9.8" fill="#000" stroke="#000" stroke-width="0.2" textLength="9.8" lengthAdjust="spacingAndGlyphs">24</text>
<text x="978.1" y="844" font-size="9.8" fill="#000" stroke="#000" stroke-width="0.2" textLength="15.3" lengthAdjust="spacingAndGlyphs">Aug</text>
<text x="997.3" y="844" font-size="9.8" fill="#000" stroke="#000" stroke-width="0.2" textLength="22.7" lengthAdjust="spacingAndGlyphs">16:00</text>
<rect x="1029" y="832" width="1" height="3" fill="#000"/>
<text x="1028.6" y="844" font-size="9.8" fill="#000" stroke="#000" stroke-width="0.2" textLength="9.8" lengthAdjust="spacingAndGlyphs">25</text>
<text x="1042.1" y="844" font-size="9.8" fill="#000" stroke="#000" stroke-width="0.2" textLength="15.3" lengthAdjust="spacingAndGlyphs">Aug</text>
<text x="1061.3" y="844" font-size="9.8" fill="#000" stroke="#000" stroke-width="0.2" textLength="22.7" lengthAdjust="spacingAndGlyphs">08:00</text>
<rect x="1093" y="832" width="1" height="3" fill="#000"/>
<text x="1092.6" y="844" font-size="9.8" fill="#000" stroke="#000" stroke-width="0.2" textLength="9.8" lengthAdjust="spacingAndGlyphs">28</text>
<text x="1106.1" y="844" font-size="9.8" fill="#000" stroke="#000" stroke-width="0.2" textLength="15.3" lengthAdjust="spacingAndGlyphs">Aug</text>
<text x="1125.3" y="844" font-size="9.8" fill="#000" stroke="#000" stroke-width="0.2" textLength="22.7" lengthAdjust="spacingAndGlyphs">04:00</text>
<rect x="1157" y="832" width="1" height="3" fill="#000"/>
<text x="1156.6" y="844" font-size="9.8" fill="#000" stroke="#000" stroke-width="0.2" textLength="9.8" lengthAdjust="spacingAndGlyphs">28</text>
<text x="1170.1" y="844" font-size="9.8" fill="#000" stroke="#000" stroke-width="0.2" textLength="15.3" lengthAdjust="spacingAndGlyphs">Aug</text>
<text x="1189.3" y="844" font-size="9.8" fill="#000" stroke="#000" stroke-width="0.2" textLength="22.7" lengthAdjust="spacingAndGlyphs">20:00</text>
<rect x="1221" y="832" width="1" height="3" fill="#000"/>
<text x="1220.6" y="844" font-size="9.8" fill="#000" stroke="#000" stroke-width="0.2" textLength="9.8" lengthAdjust="spacingAndGlyphs">29</text>
<text x="1234.1" y="844" font-size="9.8" fill="#000" stroke="#000" stroke-width="0.2" textLength="15.3" lengthAdjust="spacingAndGlyphs">Aug</text>
<text x="1253.3" y="844" font-size="9.8" fill="#000" stroke="#000" stroke-width="0.2" textLength="22.7" lengthAdjust="spacingAndGlyphs">12:00</text>
<rect x="1285" y="832" width="1" height="3" fill="#000"/>
<text x="1284.6" y="844" font-size="9.8" fill="#000" stroke="#000" stroke-width="0.2" textLength="9.8" lengthAdjust="spacingAndGlyphs">30</text>
<text x="1298.1" y="844" font-size="9.8" fill="#000" stroke="#000" stroke-width="0.2" textLength="15.3" lengthAdjust="spacingAndGlyphs">Aug</text>
<text x="1317.3" y="844" font-size="9.8" fill="#000" stroke="#000" stroke-width="0.2" textLength="22.7" lengthAdjust="spacingAndGlyphs">04:00</text>
<rect x="1349" y="832" width="1" height="3" fill="#000"/>
<text x="1348.6" y="844" font-size="9.8" fill="#000" stroke="#000" stroke-width="0.2" textLength="9.8" lengthAdjust="spacingAndGlyphs">30</text>
<text x="1362.1" y="844" font-size="9.8" fill="#000" stroke="#000" stroke-width="0.2" textLength="15.3" lengthAdjust="spacingAndGlyphs">Aug</text>
<text x="1381.3" y="844" font-size="9.8" fill="#000" stroke="#000" stroke-width="0.2" textLength="22.7" lengthAdjust="spacingAndGlyphs">20:00</text>
<defs><pattern id="chk" width="2" height="2" patternUnits="userSpaceOnUse"><rect width="2" height="2" fill="#fff"/><rect width="1" height="1" fill="#f0f0f0"/><rect x="1" y="1" width="1" height="1" fill="#f0f0f0"/></pattern><linearGradient id="gy" x1="0" y1="0" x2="1" y2="1"><stop offset="0" stop-color="#ffe34d"/><stop offset="1" stop-color="#c8860a"/></linearGradient><linearGradient id="gr" x1="0" y1="0" x2="0" y2="1"><stop offset="0" stop-color="#ea5a3a"/><stop offset="1" stop-color="#d8200c"/></linearGradient><linearGradient id="gb" x1="0" y1="0" x2="0" y2="1"><stop offset="0" stop-color="#2a8cf0"/><stop offset="1" stop-color="#0a4fb8"/></linearGradient></defs>
<g id="toolbar">
<rect x="5" y="1" width="1" height="21" fill="#a0a0a0"/>
<g shape-rendering="auto"><path d="M15.7,5.5 q0,-1 1,-1 h6.8 l3,3 v9 q0,1 -1,1 h-8.8 q-1,0 -1,-1 z" fill="#fff" stroke="#8c8c8c" stroke-width="1.1"/><path d="M23.5,4.5 v3 h3" fill="#e4e4e4" stroke="#8c8c8c" stroke-width="0.9"/>
<rect x="17" y="6" width="3" height="1.6" fill="#9a9a9a"/><rect x="17" y="10" width="6" height="1" fill="#b0b0b0"/><rect x="17" y="12" width="5" height="1" fill="#b0b0b0"/><rect x="17" y="14" width="3" height="1" fill="#b0b0b0"/>
<path d="M23.7,10.5 h2.6 v4 h4 v2.6 h-4 v4 h-2.6 v-4 h-4 v-2.6 h4 z" fill="#1fd01f" stroke="#0c8c0c" stroke-width="1" stroke-linejoin="miter"/><path d="M24.4,11.2 h1.3 v4 h4 v1 h-9.3 v-1 h4 z" fill="#8dff8d" opacity="0.75"/></g>
<text x="34" y="15" font-size="12" fill="#000" stroke="#000" stroke-width="0.25">新订单</text>
<g shape-rendering="auto"><polygon points="88,5.2 97.8,12 97.4,14 90,19.6 82.3,14.4 82.3,13.2" fill="#b87410" stroke="#a8680c" stroke-width="0.8" stroke-linejoin="round"/><polygon points="88,5.2 97.8,12 90,17.8 82.3,13.2" fill="url(#gy)"/><path d="M82.8,14 L90,18.6 L97.3,13.2" fill="none" stroke="#f3d98a" stroke-width="0.7"/><path d="M87,6.5 L84,12.5" stroke="#fff3b0" stroke-width="1" opacity="0.7"/></g>
<g shape-rendering="auto"><path d="M112.3,4.3 h7.2 l3.5,2 v8 h-10.7 z" fill="#1e9bff" stroke="#1478d8" stroke-width="0.6"/><path d="M116.5,6.2 l2.8,-1.6 l3.4,1.9 v7 h-6.2 z" fill="#4fb0ff"/><rect x="117.6" y="8.3" width="4.2" height="1.2" fill="#e6f3ff"/><rect x="117.6" y="10.6" width="4.2" height="1" fill="#cfe6ff"/><path d="M112.6,19.2 a2.6,2.6 0 0 1 0.2,-5.1 a3.4,3.4 0 0 1 6.2,-0.9 a2.8,2.8 0 0 1 3.6,1.5 a2.4,2.4 0 0 1 0.6,4.5 z" fill="#e9eef8" stroke="#6a86c0" stroke-width="1"/><path d="M112.5,17.3 h11" stroke="#c4cfe6" stroke-width="1.6"/></g>
<g shape-rendering="auto" fill="none"><circle cx="146" cy="11.5" r="7.4" stroke="#8fb2e6" stroke-width="1" opacity="0.8"/><circle cx="146" cy="11.5" r="4.8" stroke="#6f99e0" stroke-width="1.1"/><path d="M146,11.5 L146,19.6 A8.1,8.1 0 0 0 154.1,11.5 Z" fill="#6fc06f" opacity="0.8"/><path d="M146,16.3 A4.8,4.8 0 0 0 150.8,11.5" stroke="#d8f0d8" stroke-width="1"/><circle cx="146" cy="11.5" r="1.8" fill="#1f5fd0"/><rect x="145.5" y="12" width="1.5" height="7.6" fill="#2aa52a"/></g>
<g shape-rendering="auto"><polygon points="165.5,11 181,11 178,17 172.5,19.8" fill="#ffe24a" stroke="#c89a10" stroke-width="0.8"/><ellipse cx="173" cy="8.8" rx="8" ry="2.8" fill="#3d9fd8" stroke="#2a7fb5" stroke-width="0.8"/><ellipse cx="173" cy="6.8" rx="4.2" ry="2.8" fill="#5fb8ea"/><circle cx="177.5" cy="15.8" r="4.1" fill="#d8200c"/><rect x="175.8" y="14.2" width="3.4" height="3.2" fill="#fff"/></g>
<text x="185.8" y="15" font-size="12" fill="#000" stroke="#000" stroke-width="0.25">自动交易</text>
<rect x="241" y="0" width="1" height="24" fill="#a0a0a0"/><rect x="242" y="0" width="1" height="24" fill="#fff"/>
<rect x="245" y="2" width="3" height="1" fill="#a8a8a8"/>
<rect x="245" y="4" width="3" height="1" fill="#a8a8a8"/>
<rect x="245" y="6" width="3" height="1" fill="#a8a8a8"/>
<rect x="245" y="8" width="3" height="1" fill="#a8a8a8"/>
<rect x="245" y="10" width="3" height="1" fill="#a8a8a8"/>
<rect x="245" y="12" width="3" height="1" fill="#a8a8a8"/>
<rect x="245" y="14" width="3" height="1" fill="#a8a8a8"/>
<rect x="245" y="16" width="3" height="1" fill="#a8a8a8"/>
<rect x="245" y="18" width="3" height="1" fill="#a8a8a8"/>
<rect x="245" y="20" width="3" height="1" fill="#a8a8a8"/>
<g shape-rendering="auto" fill="#505050"><rect x="259" y="7" width="1" height="13"/><rect x="257" y="17" width="12" height="1"/><polygon points="257.5,8.5 259.5,6 261.5,8.5"/><polygon points="268.5,15.5 271,17.5 268.5,19.5"/></g>
<g fill="#0a8a0a"><rect x="265" y="7" width="1" height="9"/><rect x="266" y="8" width="2" height="1"/><rect x="263" y="14" width="2" height="1"/></g>
<rect x="279" y="0" width="26" height="23" fill="#fff"/>
<rect x="280" y="1" width="24" height="21" fill="url(#chk)"/>
<rect x="279" y="0" width="25" height="1" fill="#a0a0a0"/><rect x="279" y="0" width="1" height="22" fill="#a0a0a0"/>
<g shape-rendering="auto" fill="#505050"><rect x="287" y="7" width="1" height="13"/><rect x="285" y="17" width="12" height="1"/><polygon points="285.5,8.5 287.5,6 289.5,8.5"/><polygon points="296.5,15.5 299,17.5 296.5,19.5"/></g>
<rect x="293" y="4" width="1" height="12" fill="#0a8a0a"/><rect x="291.5" y="6.5" width="4" height="7.5" fill="#5af05a" stroke="#0a9a0a" stroke-width="1" shape-rendering="auto"/>
<g shape-rendering="auto" fill="#505050"><rect x="315" y="7" width="1" height="13"/><rect x="313" y="17" width="12" height="1"/><polygon points="313.5,8.5 315.5,6 317.5,8.5"/><polygon points="324.5,15.5 327,17.5 324.5,19.5"/></g>
<path d="M314,14.6 C316.5,13.5 318,9.4 320.2,9.4 C322,9.4 323.5,12.4 326,13" fill="none" stroke="#2a9a2a" stroke-width="1.2" shape-rendering="auto"/>
<rect x="336" y="1" width="1" height="21" fill="#a0a0a0"/>
<g shape-rendering="auto"><line x1="355.3" y1="14.3" x2="360.3" y2="18.8" stroke="#8a6a10" stroke-width="3.6" stroke-linecap="butt"/><line x1="355.6" y1="14.6" x2="360" y2="18.5" stroke="#f0d040" stroke-width="2"/><circle cx="351" cy="10" r="5.6" fill="#d9f1fb" stroke="#2f78c8" stroke-width="1.2"/><rect x="348" y="9.2" width="6" height="1.7" fill="#4a92b8"/><rect x="350.15" y="7" width="1.7" height="6" fill="#4a92b8"/></g>
<g shape-rendering="auto"><line x1="383.3" y1="14.3" x2="388.3" y2="18.8" stroke="#8a6a10" stroke-width="3.6" stroke-linecap="butt"/><line x1="383.6" y1="14.6" x2="388" y2="18.5" stroke="#f0d040" stroke-width="2"/><circle cx="379" cy="10" r="5.6" fill="#d9f1fb" stroke="#2f78c8" stroke-width="1.2"/><rect x="376" y="9.2" width="6" height="1.7" fill="#4a92b8"/></g>
<rect x="401" y="4" width="8" height="8" fill="#3aa520"/><rect x="402" y="7" width="6" height="4" fill="#fff"/><rect x="403" y="8" width="4" height="1" fill="#3aa520" opacity="0.5"/><rect x="402" y="5" width="1" height="1" fill="#fff" opacity="0.8"/>
<rect x="409" y="4" width="8" height="8" fill="#2a5fd8"/><rect x="410" y="7" width="6" height="4" fill="#fff"/><rect x="411" y="8" width="4" height="1" fill="#2a5fd8" opacity="0.5"/><rect x="410" y="5" width="1" height="1" fill="#fff" opacity="0.8"/>
<rect x="401" y="12" width="8" height="8" fill="#2a5fd8"/><rect x="402" y="15" width="6" height="4" fill="#fff"/><rect x="403" y="16" width="4" height="1" fill="#2a5fd8" opacity="0.5"/><rect x="402" y="13" width="1" height="1" fill="#fff" opacity="0.8"/>
<rect x="409" y="12" width="8" height="8" fill="#3aa520"/><rect x="410" y="15" width="6" height="4" fill="#fff"/><rect x="411" y="16" width="4" height="1" fill="#3aa520" opacity="0.5"/><rect x="410" y="13" width="1" height="1" fill="#fff" opacity="0.8"/>
<rect x="426" y="1" width="1" height="21" fill="#a0a0a0"/>
<rect x="431" y="0" width="26" height="23" fill="#fff"/>
<rect x="432" y="1" width="24" height="21" fill="url(#chk)"/>
<rect x="431" y="0" width="25" height="1" fill="#a0a0a0"/><rect x="431" y="0" width="1" height="22" fill="#a0a0a0"/>
<g shape-rendering="auto" fill="#505050"><rect x="439" y="7" width="1" height="13"/><rect x="437" y="17" width="12" height="1"/><polygon points="437.5,8.5 439.5,6 441.5,8.5"/><polygon points="448.5,15.5 451,17.5 448.5,19.5"/></g>
<polygon points="444.5,8.5 448,11.5 444.5,14.5" fill="#6fe06f" stroke="#14a014" stroke-width="1" shape-rendering="auto"/>
<rect x="459" y="0" width="26" height="23" fill="#fff"/>
<rect x="460" y="1" width="24" height="21" fill="url(#chk)"/>
<rect x="459" y="0" width="25" height="1" fill="#a0a0a0"/><rect x="459" y="0" width="1" height="22" fill="#a0a0a0"/>
<g shape-rendering="auto" fill="#505050"><rect x="467" y="7" width="1" height="13"/><rect x="465" y="17" width="12" height="1"/><polygon points="465.5,8.5 467.5,6 469.5,8.5"/><polygon points="476.5,15.5 479,17.5 476.5,19.5"/></g>
<rect x="473" y="6" width="1" height="10" fill="#1a6a9a"/><polygon points="474.5,11.5 478,9 477.2,11 479.5,11.5 477.2,12 478,14" fill="#e04a10" shape-rendering="auto"/>
<rect x="488" y="1" width="1" height="21" fill="#a0a0a0"/>
<g shape-rendering="auto"><path d="M498.7,5.5 q0,-1 1,-1 h6.8 l3,3 v9 q0,1 -1,1 h-8.8 q-1,0 -1,-1 z" fill="#fff" stroke="#8c8c8c" stroke-width="1.1"/><path d="M506.5,4.5 v3 h3" fill="#e4e4e4" stroke="#8c8c8c" stroke-width="0.9"/>
<path d="M502,8 q-1.5,0 -1.5,1.5 v1 q0,1 -1,1 q1,0 1,1 v1 q0,1.5 1.5,1.5" fill="none" stroke="#555" stroke-width="0.8" shape-rendering="auto"/>
<path d="M506.8,10.5 h2.6 v4 h4 v2.6 h-4 v4 h-2.6 v-4 h-4 v-2.6 h4 z" fill="#1fd01f" stroke="#0c8c0c" stroke-width="1" stroke-linejoin="miter"/><path d="M507.5,11.2 h1.3 v4 h4 v1 h-9.3 v-1 h4 z" fill="#8dff8d" opacity="0.75"/></g>
<polygon points="519.7,11 525.3000000000001,11 522.5,14" fill="#000" shape-rendering="auto"/>
<g shape-rendering="auto"><circle cx="544" cy="12" r="7" fill="#fff" stroke="url(#gb)" stroke-width="2.6"/><path d="M543.5,8 V12.5 H547" fill="none" stroke="#333" stroke-width="1.2"/><circle cx="544" cy="12" r="5.5" fill="none" stroke="#c8d4e8" stroke-width="0.6" stroke-dasharray="0.6 2.28"/></g>
<polygon points="558.7,11 564.3000000000001,11 561.5,14" fill="#000" shape-rendering="auto"/>
<g shape-rendering="auto"><rect x="575.5" y="5.5" width="15" height="13" fill="#fff" stroke="#3a7ac8" stroke-width="1"/><rect x="576" y="6" width="14" height="2" fill="#3a8ae0"/><rect x="576" y="13" width="14" height="1" fill="#5a9ae0"/><path d="M577.5,11.5 h2 l2,-2 h2 l2,1 l2,-1 h1.5" fill="none" stroke="#a01010" stroke-width="1.1"/><path d="M578.5,16.5 l2,-1 l2,1 l2.5,-2 l2.5,2" fill="none" stroke="#109010" stroke-width="1.1"/></g>
<polygon points="597.7,11 603.3000000000001,11 600.5,14" fill="#000" shape-rendering="auto"/>
<rect x="609" y="0" width="1" height="24" fill="#a0a0a0"/><rect x="610" y="0" width="1" height="24" fill="#fff"/>
<rect x="613" y="2" width="3" height="1" fill="#a8a8a8"/>
<rect x="613" y="4" width="3" height="1" fill="#a8a8a8"/>
<rect x="613" y="6" width="3" height="1" fill="#a8a8a8"/>
<rect x="613" y="8" width="3" height="1" fill="#a8a8a8"/>
<rect x="613" y="10" width="3" height="1" fill="#a8a8a8"/>
<rect x="613" y="12" width="3" height="1" fill="#a8a8a8"/>
<rect x="613" y="14" width="3" height="1" fill="#a8a8a8"/>
<rect x="613" y="16" width="3" height="1" fill="#a8a8a8"/>
<rect x="613" y="18" width="3" height="1" fill="#a8a8a8"/>
<rect x="613" y="20" width="3" height="1" fill="#a8a8a8"/>
<rect x="619" y="0" width="26" height="23" fill="#fff"/>
<rect x="620" y="1" width="24" height="21" fill="url(#chk)"/>
<rect x="619" y="0" width="25" height="1" fill="#a0a0a0"/><rect x="619" y="0" width="1" height="22" fill="#a0a0a0"/>
<polygon points="627,5 627,16 629.6,13.6 632,19.2 633.8,18.4 631.4,13 635.2,12.6" fill="#505050" shape-rendering="auto"/>
<g fill="#505050"><rect x="652" y="12" width="6" height="1"/><rect x="661" y="12" width="6" height="1"/><rect x="659" y="5" width="1" height="6"/><rect x="659" y="14" width="1" height="6"/><rect x="659" y="12" width="1" height="1" opacity="0.6"/></g>
<rect x="676" y="1" width="1" height="21" fill="#a0a0a0"/>
<rect x="693" y="6" width="1" height="13" fill="#505050"/>
<rect x="716" y="12" width="12" height="1" fill="#505050"/>
<line x1="744" y1="19" x2="756" y2="6.5" stroke="#505050" stroke-width="1" shape-rendering="auto"/>
<g shape-rendering="auto" stroke="#505050" stroke-width="0.9" fill="none"><line x1="770" y1="13.5" x2="778" y2="6"/><line x1="772" y1="18" x2="783.5" y2="7.5"/><line x1="775.5" y1="19" x2="784" y2="11"/><path d="M773,10.5 l-1,7 M775.5,9 l-1,7 M778.5,7 l-1,7 M781.5,4.5 l-1,7"/></g>
<text x="780.5" y="21" font-size="7" font-weight="bold" fill="#505050">E</text>
<line x1="799" y1="5.5" x2="812" y2="5.5" stroke="#505050" stroke-width="1" stroke-dasharray="1 1"/>
<line x1="799" y1="8.5" x2="812" y2="8.5" stroke="#505050" stroke-width="1" stroke-dasharray="1 1"/>
<line x1="799" y1="12.5" x2="812" y2="12.5" stroke="#505050" stroke-width="1" stroke-dasharray="1 1"/>
<line x1="799" y1="16.5" x2="808" y2="16.5" stroke="#505050" stroke-width="1" stroke-dasharray="1 1"/>
<text x="808.5" y="21" font-size="7" font-weight="bold" fill="#505050">F</text>
<text x="829.5" y="17" font-size="12.5" fill="#505050" stroke="#505050" stroke-width="0.3">A</text>
<rect x="856.5" y="6.5" width="11" height="12" fill="none" stroke="#505050" stroke-width="1" stroke-dasharray="1 1"/><rect x="855" y="5" width="2" height="2" fill="#505050"/>
<text x="858" y="16.8" font-size="11" fill="#505050" stroke="#505050" stroke-width="0.3">T</text>
<g shape-rendering="auto" fill="#505050"><polygon points="883,9 886.5,6 890,9 888,10.5 885,10.5"/><polygon points="890,15.5 897,15.5 893.5,19"/><polygon points="891.5,14 895.5,14 893.5,16"/><path d="M885.5,13.5 l2,2 l4,-5" fill="none" stroke="#505050" stroke-width="1.2"/></g>
<polygon points="903.7,11 909.3000000000001,11 906.5,14" fill="#000" shape-rendering="auto"/>
<rect x="915" y="0" width="1" height="24" fill="#a0a0a0"/><rect x="916" y="0" width="1" height="24" fill="#fff"/>
<rect x="919" y="2" width="3" height="1" fill="#a8a8a8"/>
<rect x="919" y="4" width="3" height="1" fill="#a8a8a8"/>
<rect x="919" y="6" width="3" height="1" fill="#a8a8a8"/>
<rect x="919" y="8" width="3" height="1" fill="#a8a8a8"/>
<rect x="919" y="10" width="3" height="1" fill="#a8a8a8"/>
<rect x="919" y="12" width="3" height="1" fill="#a8a8a8"/>
<rect x="919" y="14" width="3" height="1" fill="#a8a8a8"/>
<rect x="919" y="16" width="3" height="1" fill="#a8a8a8"/>
<rect x="919" y="18" width="3" height="1" fill="#a8a8a8"/>
<rect x="919" y="20" width="3" height="1" fill="#a8a8a8"/>
<rect x="1065" y="0" width="26" height="23" fill="#fff"/>
<rect x="1066" y="1" width="24" height="21" fill="url(#chk)"/>
<rect x="1065" y="0" width="25" height="1" fill="#a0a0a0"/><rect x="1065" y="0" width="1" height="22" fill="#a0a0a0"/>
<text x="930.7" y="16" font-size="9.8" fill="#3a3a3a" stroke="#3a3a3a" stroke-width="0.15" textLength="12.6" lengthAdjust="spacingAndGlyphs">M1</text>
<text x="958.6" y="16" font-size="9.8" fill="#3a3a3a" stroke="#3a3a3a" stroke-width="0.15" textLength="12.6" lengthAdjust="spacingAndGlyphs">M5</text>
<text x="984.8" y="16" font-size="9.8" fill="#3a3a3a" stroke="#3a3a3a" stroke-width="0.15" textLength="17.6" lengthAdjust="spacingAndGlyphs">M15</text>
<text x="1012.7" y="16" font-size="9.8" fill="#3a3a3a" stroke="#3a3a3a" stroke-width="0.15" textLength="17.6" lengthAdjust="spacingAndGlyphs">M30</text>
<text x="1043.8" y="16" font-size="9.8" fill="#3a3a3a" stroke="#3a3a3a" stroke-width="0.15" textLength="11.5" lengthAdjust="spacingAndGlyphs">H1</text>
<text x="1071" y="16" font-size="9.8" fill="#3a3a3a" stroke="#3a3a3a" stroke-width="0.15" textLength="12" lengthAdjust="spacingAndGlyphs">H4</text>
<text x="1099.6" y="16" font-size="9.8" fill="#3a3a3a" stroke="#3a3a3a" stroke-width="0.15" textLength="11.5" lengthAdjust="spacingAndGlyphs">D1</text>
<text x="1127" y="16" font-size="9.8" fill="#3a3a3a" stroke="#3a3a3a" stroke-width="0.15" textLength="14" lengthAdjust="spacingAndGlyphs">W1</text>
<text x="1153.9" y="16" font-size="9.8" fill="#3a3a3a" stroke="#3a3a3a" stroke-width="0.15" textLength="14.3" lengthAdjust="spacingAndGlyphs">MN</text>
<rect x="1176" y="0" width="1" height="24" fill="#a0a0a0"/>
<g shape-rendering="auto"><line x1="1643.5" y1="12.5" x2="1639" y2="17" stroke="#2a62d0" stroke-width="2.2" stroke-linecap="round"/><circle cx="1646.5" cy="9.5" r="4" fill="#f4f4ff" stroke="#2a62d0" stroke-width="1.2"/></g>
<g shape-rendering="auto"><path d="M1666.3,18.3 a5.6,5 0 1 1 3.5,0.6 l-2.8,2 z" fill="#e8e8f0" stroke="#a8a8a8" stroke-width="0.8"/><ellipse cx="1669" cy="11.5" rx="4" ry="2" fill="#fff" opacity="0.8"/><circle cx="1677.5" cy="9.5" r="8.2" fill="url(#gr)"/></g>
<text x="1676.6" y="14.2" font-size="12.5" fill="#fff" text-anchor="middle" font-family="Liberation Serif,serif" stroke="#fff" stroke-width="0.3">1</text>
</g>
</svg>
</body></html>
